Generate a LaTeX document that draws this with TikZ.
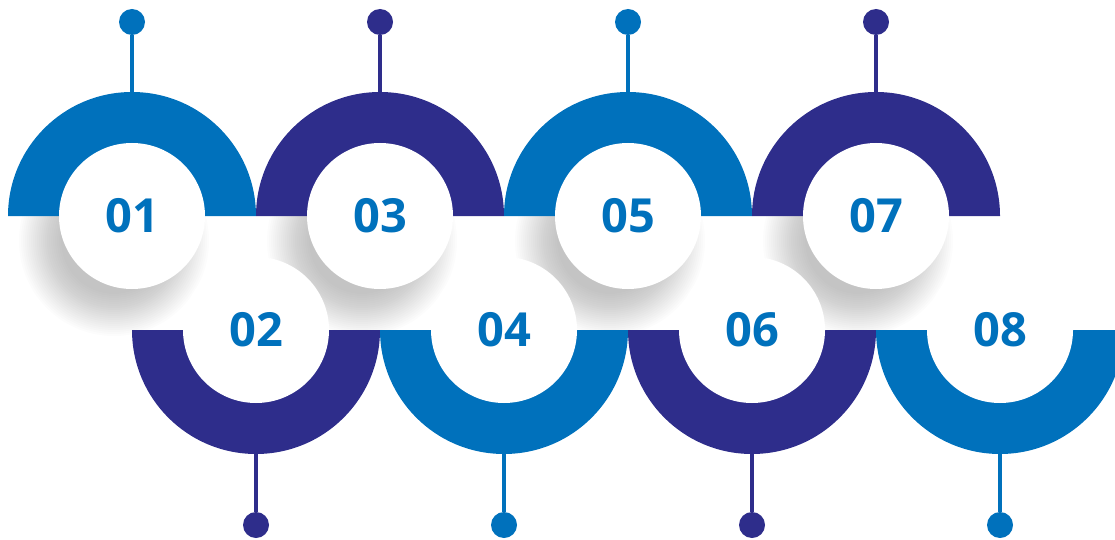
\documentclass[tikz,border=0pt]{standalone}
\usepackage{fontspec}
\setmainfont{Open Sans}
\definecolor{ringblue}{RGB}{0,113,188}
\definecolor{ringnavy}{RGB}{46,45,139}
\tikzset{
  numdisc/.style={circle,fill=white,minimum size=146pt,inner sep=0pt,
    text=ringblue,font=\fontsize{47}{47}\selectfont\bfseries},
  dotnode/.style={circle,minimum size=26pt,inner sep=0pt},
  stemline/.style={line width=4pt},
}
\begin{document}
\begin{tikzpicture}[x=1pt,y=1pt]
   \useasboundingbox (0,0) rectangle (1115,539);
   \clip (0,0) rectangle (1115,539);
   % soft shadows under the top discs
   \foreach \cx in {132,380,628,876} {
    \foreach \r in {53,55,...,95}
     \fill[black,opacity=0.011] (\cx-18,298) circle (\r);
   }
   % top row
   \foreach \cx/\col/\n in {132/ringblue/01,380/ringnavy/03,628/ringblue/05,876/ringnavy/07} {
    \fill[\col] (\cx-124,323) arc[start angle=180,end angle=0,radius=124] -- cycle;
    \node[numdisc] (n\n) at (\cx,323) {\n};
    \coordinate (t\n) at (\cx,447);
    \node[dotnode,fill=\col] (d\n) at (\cx,517) {};
    \draw[stemline,\col] (d\n) -- (t\n);
   }
   % bottom row
   \foreach \cx/\col/\n in {256/ringnavy/02,504/ringblue/04,752/ringnavy/06,1000/ringblue/08} {
    \fill[\col] (\cx-124,209) arc[start angle=180,end angle=360,radius=124] -- cycle;
    \node[numdisc] (n\n) at (\cx,209) {\n};
    \coordinate (t\n) at (\cx,85);
    \node[dotnode,fill=\col] (d\n) at (\cx,14) {};
    \draw[stemline,\col] (t\n) -- (d\n);
   }
  \end{tikzpicture}
\end{document}
